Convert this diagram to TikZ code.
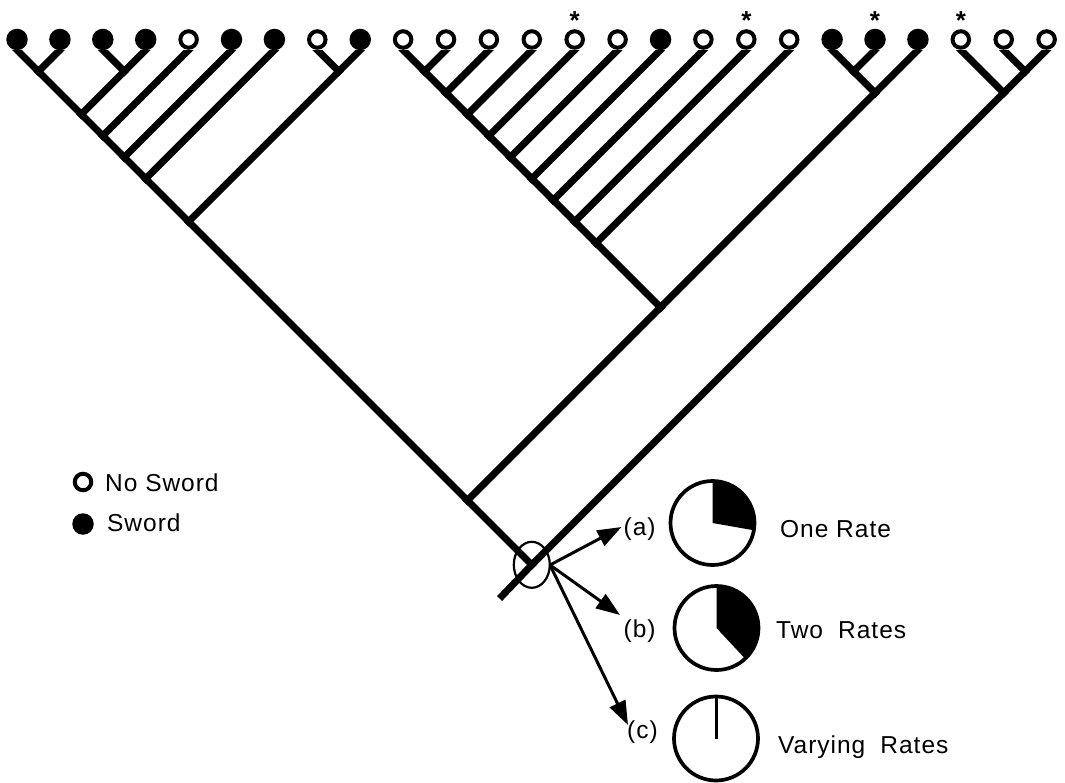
\documentclass[tikz,border=0pt]{standalone}
\usepackage{fontspec}
\setmainfont{Liberation Sans}[LetterSpace=4]
\usetikzlibrary{arrows.meta,shapes.geometric}

\begin{document}
\begin{tikzpicture}[x=1pt,y=-1pt,
    branch/.style={line width=7pt, line cap=rect},
    leafS/.style={circle, fill=black, minimum size=21.5pt, inner sep=0pt, outer sep=0pt},
    leafN/.style={circle, draw=black, fill=white, line width=4pt, minimum size=16.5pt, inner sep=0pt, outer sep=0pt},
    ring/.style={ellipse, draw=black, line width=2.2pt, minimum width=36pt, minimum height=46pt, inner sep=0pt},
    pointer/.style={line width=3pt, -{Triangle[length=24pt,width=17pt]}},
    pie/.style={circle, draw=black, line width=3.7pt, minimum size=84pt, inner sep=0pt, outer sep=0pt},
    label/.style={anchor=base west, inner sep=0pt, font=\fontsize{24.5}{28}\selectfont},
    star/.style={anchor=base, inner sep=0pt, font=\bfseries\fontsize{26}{30}\selectfont}]

\useasboundingbox (0,0) rectangle (1065,783);

% apex of the clade spanning leaves #2..#3
\newcommand\cladept[3]{\coordinate (#1) at ({17+42.9*(#2+#3)/2},{50+42.9*(#3-#2)/2});}

% stem tops of the 25 leaves
\foreach \i in {0,...,24}{
  \pgfmathsetmacro\xx{17+42.9*\i}
  \coordinate (t\i) at (\xx,50);
}

% internal nodes
\cladept{c0x1}{0}{1}
\cladept{c2x3}{2}{3}
\cladept{c0x3}{0}{3}
\cladept{c0x4}{0}{4}
\cladept{c0x5}{0}{5}
\cladept{c0x6}{0}{6}
\cladept{c7x8}{7}{8}
\cladept{c0x8}{0}{8}
\foreach \k in {10,...,18}{ \cladept{c9x\k}{9}{\k} }
\cladept{c19x20}{19}{20}
\cladept{c19x21}{19}{21}
\cladept{c9x21}{9}{21}
\cladept{c0x21}{0}{21}
\cladept{c23x24}{23}{24}
\cladept{c22x24}{22}{24}
\cladept{root}{0}{24}
\coordinate (tail) at (502,596);

% branches
\begin{scope}
  \clip (0,50.5) rectangle (1065,783);
  \draw[branch] (t0) -- (c0x1);  \draw[branch] (t1) -- (c0x1);
  \draw[branch] (t2) -- (c2x3);  \draw[branch] (t3) -- (c2x3);
  \draw[branch] (c0x1) -- (c0x3); \draw[branch] (c2x3) -- (c0x3);
  \draw[branch] (c0x3) -- (c0x4); \draw[branch] (t4) -- (c0x4);
  \draw[branch] (c0x4) -- (c0x5); \draw[branch] (t5) -- (c0x5);
  \draw[branch] (c0x5) -- (c0x6); \draw[branch] (t6) -- (c0x6);
  \draw[branch] (t7) -- (c7x8);  \draw[branch] (t8) -- (c7x8);
  \draw[branch] (c0x6) -- (c0x8); \draw[branch] (c7x8) -- (c0x8);
  \draw[branch] (t9) -- (c9x10); \draw[branch] (t10) -- (c9x10);
  \foreach \k [evaluate=\k as \p using int(\k-1)] in {11,...,18}{
    \draw[branch] (c9x\p) -- (c9x\k);
    \draw[branch] (t\k) -- (c9x\k);
  }
  \draw[branch] (t19) -- (c19x20); \draw[branch] (t20) -- (c19x20);
  \draw[branch] (c19x20) -- (c19x21); \draw[branch] (t21) -- (c19x21);
  \draw[branch] (c9x18) -- (c9x21); \draw[branch] (c19x21) -- (c9x21);
  \draw[branch] (c0x8) -- (c0x21); \draw[branch] (c9x21) -- (c0x21);
  \draw[branch] (t23) -- (c23x24); \draw[branch] (t24) -- (c23x24);
  \draw[branch] (t22) -- (c22x24); \draw[branch] (c23x24) -- (c22x24);
  \draw[branch] (c0x21) -- (root);
  \draw[branch] (c22x24) -- (root) -- (tail);
\end{scope}

% leaves: S = sword, N = no sword
\foreach \t [count=\i from 0] in {S,S,S,S,N,S,S,N,S,N,N,N,N,N,N,S,N,N,N,S,S,S,N,N,N}{
  \pgfmathsetmacro\xx{17+42.9*\i}
  \node[leaf\t] (leaf\i) at (\xx,39.5) {};
}

% asterisks over marked taxa
\foreach \i in {13,17,20,22}{
  \pgfmathsetmacro\xx{17+42.9*\i}
  \node[star] (star\i) at (\xx,30) {*};
}

% legend
\node[leafN] (keyN) at (83,482) {};
\node[label] (keyNtext) at (105,491) {No Sword};
\node[leafS] (keyS) at (83,524) {};
\node[label] (keyStext) at (107,531.5) {Sword};

% ring round the root and the three reconstructions
\node[ring] (rootring) at (root) {};
\coordinate (src) at (550,565);
\coordinate (tipa) at (621.5,527);
\coordinate (tipb) at (620,615);
\coordinate (tipc) at (628,725);
\draw[pointer] (src) -- (tipa);
\draw[pointer] (src) -- (tipb);
\draw[pointer] (src) -- (tipc);

\node[label] (la) at (623.5,535.5) {(a)};
\node[label] (lb) at (623.5,637.5) {(b)};
\node[label] (lc) at (627,738.5) {(c)};

% pie (a)
\coordinate (pa) at (712.5,523);
\fill (pa) -- ++(-10:42pt) arc[start angle=-10, end angle=90, radius=42pt] -- cycle;
\node[pie] (pieA) at (pa) {};
\node[label] (ta) at (780,537) {One Rate};

% pie (b)
\coordinate (pb) at (716.5,628);
\fill (pb) -- ++(-47:42pt) arc[start angle=-47, end angle=90, radius=42pt] -- cycle;
\node[pie] (pieB) at (pb) {};
\node[label] (tb) at (776,638) {Two\hspace{0.3em} Rates};

% pie (c)
\coordinate (pc) at (716,738.5);
\node[pie] (pieC) at (pc) {};
\draw[line width=3pt] (pieC.north) -- (pieC.center);
\node[label] (tc) at (778,753) {Varying\hspace{0.3em} Rates};

\end{tikzpicture}
\end{document}
